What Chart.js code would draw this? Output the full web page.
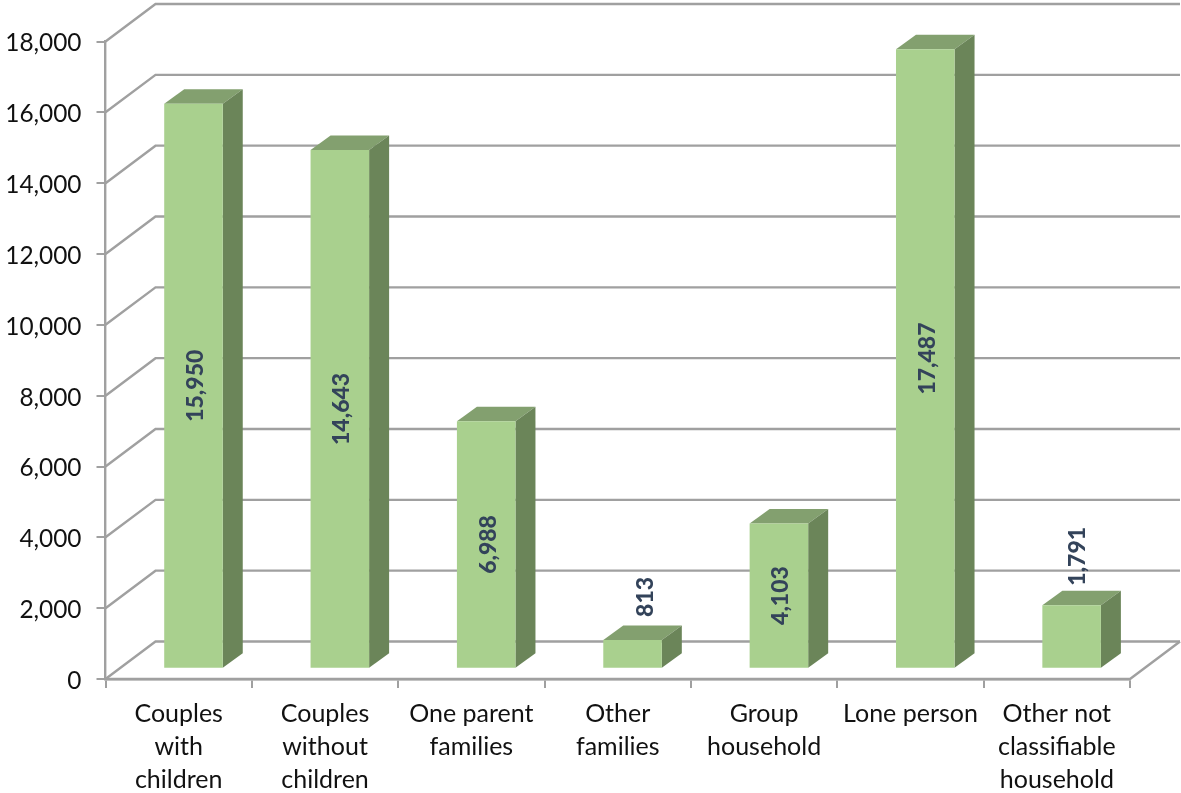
<!DOCTYPE html>
<html>
<head>
<meta charset="utf-8">
<style>
  html, body { margin: 0; padding: 0; background: #fff; }
  canvas { display: block; }
</style>
<script src="https://cdn.jsdelivr.net/npm/chart.js@4"></script>
</head>
<body>
<canvas id="barchart" width="1181" height="793"></canvas>
<script>
const categories = [
  ['Couples', 'with', 'children'],
  ['Couples', 'without', 'children'],
  ['One parent', 'families'],
  ['Other', 'families'],
  ['Group', 'household'],
  ['Lone person'],
  ['Other not', 'classifiable', 'household']
];
const households = [15950, 14643, 6988, 813, 4103, 17487, 1791];
const yTicks = [0, 2000, 4000, 6000, 8000, 10000, 12000, 14000, 16000, 18000];

const gridColor = '#a0a0a0';
const frontColor = '#a9d08e';
const topColor = '#83a06f';
const sideColor = '#6b8559';
const labelColor = '#33435a';

// fake 3D: wall depth and bar depth, in px
const wallDx = 50, wallDy = 37.5;
const barDx = 14.8, barDy = 10.3;
const sideDx = 20, sideDy = 14.5;

const fake3d = {
  id: 'fake3d',
  beforeDatasetsDraw(chart) {
    const { ctx, chartArea, scales } = chart;
    ctx.save();
    ctx.strokeStyle = gridColor;
    ctx.lineWidth = 2.4;
    yTicks.forEach(v => {
      const y = scales.y.getPixelForValue(v);
      ctx.beginPath();
      ctx.moveTo(chartArea.left, y);
      ctx.lineTo(chartArea.left + wallDx, y - wallDy);
      ctx.lineTo(chartArea.right + wallDx, y - wallDy);
      ctx.stroke();
    });
    // floor edge on the right
    const y0 = scales.y.getPixelForValue(0);
    ctx.beginPath();
    ctx.moveTo(chartArea.left, y0);
    ctx.lineTo(chartArea.right, y0);
    ctx.lineTo(chartArea.right + wallDx, y0 - wallDy);
    ctx.stroke();
    ctx.restore();
  },
  beforeDatasetDraw(chart) {
    const { ctx } = chart;
    ctx.save();
    ctx.translate(barDx, -barDy);
    chart.getDatasetMeta(0).data.forEach(bar => {
      const l = bar.x - bar.width / 2, r = bar.x + bar.width / 2;
      ctx.fillStyle = topColor;
      ctx.beginPath();
      ctx.moveTo(l, bar.y);
      ctx.lineTo(l + sideDx, bar.y - sideDy);
      ctx.lineTo(r + sideDx, bar.y - sideDy);
      ctx.lineTo(r, bar.y);
      ctx.closePath();
      ctx.fill();
      ctx.fillStyle = sideColor;
      ctx.beginPath();
      ctx.moveTo(r, bar.y);
      ctx.lineTo(r + sideDx, bar.y - sideDy);
      ctx.lineTo(r + sideDx, bar.base - sideDy);
      ctx.lineTo(r, bar.base);
      ctx.closePath();
      ctx.fill();
    });
  },
  afterDatasetDraw(chart) {
    chart.ctx.restore();
  },
  afterDatasetsDraw(chart) {
    const { ctx } = chart;
    ctx.save();
    ctx.fillStyle = labelColor;
    ctx.font = '900 23px Lato';
    ctx.textAlign = 'center';
    ctx.textBaseline = 'middle';
    chart.getDatasetMeta(0).data.forEach((bar, i) => {
      const small = households[i] < 2000;
      // the two small bars have their labels above, placed by hand
      const nudgeX = small ? (i === 3 ? 13 : 6) : 2;
      const nudgeY = i === 3 ? 43 : 49;
      const x = bar.x + barDx + nudgeX;
      const top = bar.y - barDy, bottom = bar.base - barDy;
      const y = small ? top - nudgeY : (top + bottom) / 2;
      ctx.save();
      ctx.translate(x, y);
      ctx.rotate(-Math.PI / 2);
      ctx.fillText(households[i].toLocaleString('en-US'), 0, 0);
      ctx.restore();
    });
    ctx.restore();
  }
};

const barchart = new Chart(document.getElementById('barchart').getContext('2d'), {
  type: 'bar',
  data: {
    labels: categories,
    datasets: [{
      data: households,
      backgroundColor: frontColor,
      borderWidth: 0,
      barPercentage: 0.4,
      categoryPercentage: 1,
      clip: false
    }]
  },
  options: {
    responsive: false,
    animation: false,
    layout: { padding: { top: 41.5, right: 51, left: 0, bottom: 0 } },
    plugins: { legend: { display: false }, tooltip: { enabled: false } },
    scales: {
      x: {
        afterFit(scale) { scale.height = 114; },
        grid: { drawOnChartArea: false, color: gridColor, lineWidth: 2, tickLength: 9 },
        border: { color: gridColor, width: 2.4 },
        ticks: {
          color: '#111',
          font: { family: 'Lato', size: 25, lineHeight: 1.32 },
          maxRotation: 0,
          autoSkip: false,
          padding: 9
        }
      },
      y: {
        min: 0,
        max: 18000,
        afterFit(scale) { scale.width = 105.5; },
        afterBuildTicks(scale) { scale.ticks = yTicks.map(value => ({ value })); },
        grid: { drawOnChartArea: false, color: gridColor, lineWidth: 2, tickLength: 9 },
        border: { color: gridColor, width: 2.4 },
        ticks: {
          color: '#111',
          // empty first line pushes the text about 2px below the tick mark
          font: { family: 'Lato', size: 24.4, lineHeight: '4px' },
          padding: 15,
          callback: v => ['', v.toLocaleString('en-US')]
        }
      }
    }
  },
  plugins: [fake3d]
});
</script>
</body>
</html>
